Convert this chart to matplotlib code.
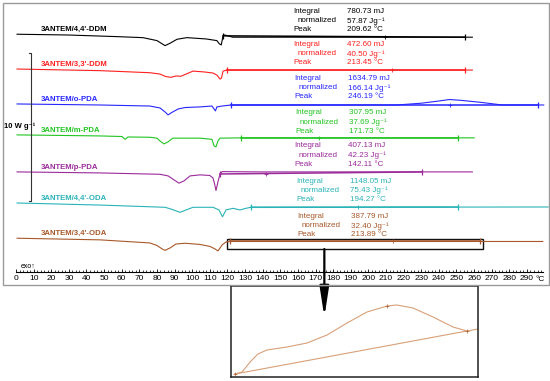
import numpy as np
import matplotlib.pyplot as plt
from matplotlib.patches import Rectangle

plt.rcParams['font.family'] = ['Liberation Sans', 'DejaVu Sans']

names = ["3ANTEM/4,4'-DDM", "3ANTEM/3,3'-DDM", '3ANTEM/o-PDA', '3ANTEM/m-PDA',
         '3ANTEM/p-PDA', "3ANTEM/4,4'-ODA", "3ANTEM/3,4'-ODA"]
colors = ['#000000', '#ff1f1f', '#2626ff', '#22c422', '#9b2a9b', '#2ab3b8', '#a8582a']

integral_mj = [780.73, 472.60, 1634.79, 307.95, 407.13, 1148.05, 387.79]
normalized = [57.87, 40.50, 166.14, 37.69, 42.23, 75.43, 32.40]
peak_c = [209.62, 213.45, 246.19, 171.73, 142.11, 194.27, 213.89]
lim_start = [117.5, 119.7, 122.0, 127.7, 115.8, 133.4, 121.5]
lim_end = [254.8, 254.8, 296.0, 250.9, 230.4, 250.9, 263.3]

# heat flow (W/g) relative to the first point of each run
t_ddm44 = [0.6, 29, 57, 72, 80, 84.6, 87.4, 91.4, 97, 108, 114, 115.5, 116.5, 117.5, 118.5, 123, 200, 259]
hf_ddm44 = [0, -0.05, -0.16, -0.23, -0.43, -0.77, -0.61, -0.34, -0.23, -0.32, -0.43, -0.66, -0.72,
            -0.11, -0.05, -0.2, -0.2, -0.2]

t_ddm33 = [0.6, 47.7, 76, 81.7, 85, 88, 90.8, 93.6, 96.5, 100.5, 107, 111.8, 114, 115.8, 116.6, 117.5,
           119.7, 259]
hf_ddm33 = [0, -0.11, -0.25, -0.34, -0.51, -0.56, -0.47, -0.49, -0.34, -0.14, -0.2, -0.27, -0.41,
            -0.68, -0.61, -0.14, -0.07, -0.07]

t_opda = [0.6, 47.7, 76, 81.7, 84.6, 86.3, 88.5, 92, 96, 104.4, 111.2, 112.4, 113.2, 114, 117, 122,
          216, 230, 240, 246, 252, 263, 276, 299.5]
hf_opda = [0, -0.07, -0.14, -0.27, -0.54, -0.74, -0.57, -0.34, -0.24, -0.2, -0.14, -0.34, -0.47, -0.2,
           -0.14, -0.07, -0.07, 0.05, 0.2, 0.3, 0.25, 0.12, -0.07, -0.07]

t_mpda = [0.6, 47.7, 60.2, 61.9, 63.6, 76, 80, 81.7, 84, 86.3, 89, 104.4, 111.2, 112.4, 113.5, 114.6,
          115.8, 127.7, 260]
hf_mpda = [0, -0.07, -0.11, -0.3, -0.14, -0.16, -0.22, -0.41, -0.61, -0.47, -0.22, -0.22, -0.3, -0.74,
           -0.81, -0.41, -0.22, -0.2, -0.2]

t_ppda = [0.6, 47.7, 81.7, 86.3, 89.7, 92.5, 95.3, 98.8, 104.4, 110, 111.8, 112.7, 113.5, 114.6, 115.8,
          117, 138.5, 259]
hf_ppda = [0, -0.07, -0.16, -0.27, -0.54, -0.76, -0.61, -0.27, -0.2, -0.24, -0.41, -0.81, -1.26, -0.68,
           -0.14, 0.02, 0, 0]

t_oda44 = [0.6, 47.7, 84.6, 88.5, 93, 96.5, 100.5, 111.8, 115.2, 117.2, 119.2, 123.2, 127.1, 130.5,
           133.4, 302]
hf_oda44 = [0, -0.14, -0.29, -0.43, -0.63, -0.47, -0.29, -0.29, -0.47, -0.93, -0.47, -0.36, -0.47,
            -0.36, -0.29, -0.27]

t_oda34 = [0.6, 47.7, 76, 80, 82.9, 84.6, 87.4, 90.8, 96, 104.4, 110, 112.9, 114.6, 115.8, 117, 119.2,
           121.5, 299]
hf_oda34 = [0, -0.11, -0.32, -0.49, -0.72, -0.82, -0.66, -0.39, -0.34, -0.42, -0.55, -0.72, -0.86,
            -0.66, -0.45, -0.25, -0.22, -0.22]

# magnified exotherm of 3ANTEM/3,4'-ODA (arbitrary units)
t_zoom = [122.3, 126.5, 131.2, 135.8, 141.1, 152.9, 164.6, 176.4, 188.1, 199.8, 211.6, 217.4, 226.8,
          238.6, 250.3, 258.5, 265]
hf_zoom = [3, 5, 15, 23, 27, 30, 34, 42, 54, 65, 71, 72, 69, 60, 50, 46, 48]
zoom_lim = [122.3, 258.5]
zoom_peak = 211.6

offsets = [16.94, 14.59, 12.23, 10.14, 7.64, 5.54, 3.16]
block_top = [18.45, 16.22, 13.92, 11.62, 9.39, 6.98, 4.61]
block_x = [157.2, 157.5, 157.8, 158.3, 157.8, 158.9, 159.5]

curves_t = [t_ddm44, t_ddm33, t_opda, t_mpda, t_ppda, t_oda44, t_oda34]
curves_hf = [hf_ddm44, hf_ddm33, hf_opda, hf_mpda, hf_ppda, hf_oda44, hf_oda34]

fig = plt.figure(figsize=(5.5, 3.81), dpi=100)
ax = fig.add_axes([3 / 550, 96 / 381, 546 / 550, 282 / 381])
ax.set_xlim(-7.38, 302.5)
ax.set_ylim(0, 19.05)
for s in ['top', 'left', 'right']:
    ax.spines[s].set_visible(False)
ax.spines['bottom'].set_position(('data', 0.878))
ax.spines['bottom'].set_bounds(0, 299)
ax.spines['bottom'].set_linewidth(0.8)
ax.set_yticks([])
ax.set_xticks(np.arange(0, 291, 10))
ax.set_xticks(np.arange(0, 299, 2), minor=True)
ax.tick_params(axis='x', which='major', direction='in', length=2.5, width=0.6, pad=2, labelsize=6)
ax.tick_params(axis='x', which='minor', direction='in', length=1.5, width=0.5)
ax.text(297.5, 0.878 - 0.48, '°C', fontsize=6, ha='center', va='center')
ax.text(2.8, 1.28, 'exo↑', fontsize=5, ha='left', va='center')

fig.add_artist(Rectangle((3 / 550, 96 / 381), 546 / 550, 282 / 381, transform=fig.transFigure,
                         fill=False, edgecolor='#9a9a9a', lw=1))

fs = 5.8
for i in range(len(names)):
    t = np.array(curves_t[i])
    y = np.array(curves_hf[i]) + offsets[i]
    c = colors[i]
    ax.plot(t, y, color=c, lw=0.8)
    y0 = np.interp(lim_start[i], t, y)
    y1 = np.interp(lim_end[i], t, y)
    ax.plot([lim_start[i], lim_end[i]], [y0, y1], color=c, lw=1.1)
    ax.plot([lim_start[i], lim_end[i]], [y0, y1], ls='none', marker='|', ms=5, mew=0.9, color=c)
    yp = np.interp(peak_c[i], [lim_start[i], lim_end[i]], [y0, y1])
    ax.plot(peak_c[i], yp, marker='+', ms=2.5, mew=0.6, color=c)
    ax.text(14.2, offsets[i] + 0.3, names[i], color=c, fontsize=5.6, fontweight='bold', va='center')
    yt = block_top[i]
    x0 = block_x[i]
    ax.text(x0, yt, 'Integral', color=c, fontsize=fs, va='center')
    ax.text(x0 + 2.5, yt - 0.61, 'normalized', color=c, fontsize=fs, va='center')
    ax.text(x0, yt - 1.22, 'Peak', color=c, fontsize=fs, va='center')
    ax.text(x0 + 30.5, yt, f'{integral_mj[i]:.2f} mJ', color=c, fontsize=fs, va='center')
    ax.text(x0 + 30.5, yt - 0.61, f'{normalized[i]:.2f} Jg⁻¹', color=c, fontsize=fs, va='center')
    ax.text(x0 + 30.5, yt - 1.22, f'{peak_c[i]:.2f} °C', color=c, fontsize=fs, va='center')

# 10 W/g scale bar
ax.plot([7.4, 8.5, 8.5, 7.4], [15.68, 15.68, 5.68, 5.68], color='#333333', lw=0.8)
ax.text(-6.8, 10.74, '10 W g⁻¹', fontsize=5.5, fontweight='bold', va='center', ha='left')

# zoom box and arrow
ax.add_patch(Rectangle((119.75, 2.43), 145.25, 0.68, fill=False, edgecolor='#111111', lw=1))
ax.annotate('', xy=(175, -2.16), xytext=(175, 2.43), annotation_clip=False,
            arrowprops=dict(arrowstyle='-|>,head_length=1.8,head_width=0.28', mutation_scale=10,
                            color='black', lw=1.6, shrinkA=0, shrinkB=0), zorder=10)

ins = fig.add_axes([231 / 550, 4 / 381, 247 / 550, 91 / 381])
ins.patch.set_facecolor('none')
ins.set_xlim(120, 265)
ins.set_ylim(0, 91)
ins.set_xticks([])
ins.set_yticks([])
for s in ins.spines.values():
    s.set_linewidth(1.1)
    s.set_color('#222222')
ins.plot(t_zoom, hf_zoom, color='#d9a079', lw=0.8)
z0 = np.interp(zoom_lim[0], t_zoom, hf_zoom)
z1 = np.interp(zoom_lim[1], t_zoom, hf_zoom)
ins.plot(zoom_lim, [z0, z1], color='#d9a079', lw=0.8)
ins.plot(zoom_lim, [z0, z1], ls='none', marker='+', ms=2.5, mew=0.5, color='#b06030')
ins.plot(zoom_peak, np.interp(zoom_peak, t_zoom, hf_zoom), marker='+', ms=2.5, mew=0.5, color='#b06030')

fig.savefig('out.png', dpi=100)
